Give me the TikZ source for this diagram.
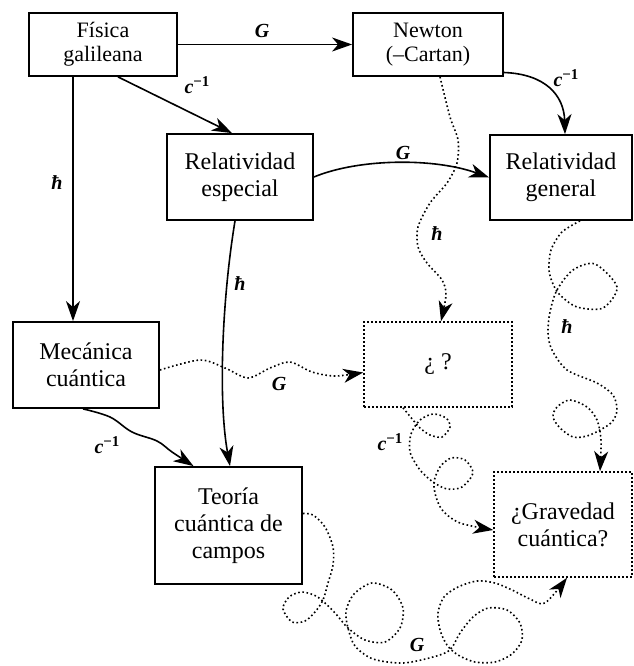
\documentclass[tikz,border=0pt]{standalone}
\usepackage{fontspec}
\setmainfont{Liberation Serif}
\usetikzlibrary{arrows.meta}
\begin{document}
\begin{tikzpicture}[x=1pt,y=-1pt,
  box/.style={draw, line width=1.8pt, align=center, inner sep=0pt, font=\fontsize{24}{27}\selectfont},
  sbox/.style={box, font=\fontsize{22}{24}\selectfont},
  dbox/.style={box, dash pattern=on 1.8pt off 2.2pt, line width=1.6pt},
  tip/.style={-{Stealth[length=20pt,width=14pt,inset=6pt]}},
  con/.style={line width=1.6pt, tip},
  dcon/.style={line width=1.6pt, dash pattern=on 1.6pt off 2.6pt, tip},
  lab/.style={inner sep=0pt, font=\fontsize{20}{22}\selectfont\bfseries\itshape},
  sup/.style={font=\fontsize{16}{18}\selectfont\bfseries}
]
\useasboundingbox (0,0) rectangle (633,666);

% boxes
\node[sbox, minimum width=148pt, minimum height=63pt] (fg) at (103,44.5) {Física\\galileana};
\node[sbox, minimum width=150pt, minimum height=63pt] (nw) at (428,44.5) {Newton\\(–Cartan)};
\node[box, minimum width=146pt, minimum height=86pt] (re) at (240,177) {Relatividad\\especial};
\node[box, minimum width=142pt, minimum height=85pt] (rg) at (561,177.5) {Relatividad\\general};
\node[box, minimum width=146pt, minimum height=86pt] (mc) at (86,365) {Mecánica\\cuántica};
\node[dbox, minimum width=148pt, minimum height=85pt] (qq) at (438,364.5) {¿ ?};
\node[box, minimum width=147pt, minimum height=117pt] (tq) at (228.5,525.5) {Teoría\\cuántica de\\campos};
\node[dbox, minimum width=138pt, minimum height=105pt] (gq) at (563,524.5) {¿Gravedad\\cuántica?};

% solid connectors
\draw[con] (fg.east) -- (nw.west);
\node[lab] (l1) at (262,31) {G};

\draw[con] ([xshift=15pt]fg.south) -- ([xshift=-8pt]re.north);
\node[lab] (l2) at (197,85) {c\raisebox{7pt}{\fontsize{15}{16}\selectfont\upshape −1}};

\draw[con] ([xshift=-30pt]fg.south) -- ([xshift=-13pt]mc.north);
\node[lab] (l3) at (57,183) {ħ};

\draw[con] ([yshift=-28pt]nw.east) .. controls (545,74) and (564,95) .. ([xshift=4pt]rg.north);
\node[lab] (l4) at (566,78) {c\raisebox{7pt}{\fontsize{15}{16}\selectfont\upshape −1}};

\draw[con] (re.east) .. controls (360,158) and (435,158) .. (rg.west);
\node[lab] (l5) at (403,153) {G};

\draw[con] ([xshift=-5pt]re.south) .. controls (222,300) and (218,400) .. ([xshift=1.5pt]tq.north);
\node[lab] (l6) at (240,284) {ħ};

\draw[con] plot[smooth, tension=0.6] coordinates {([xshift=-3pt]mc.south) (110,417) (132,432) (157,441) (172,452) ([xshift=-35pt]tq.north)};
\node[lab] (l7) at (107,445) {c\raisebox{7pt}{\fontsize{15}{16}\selectfont\upshape −1}};

% dotted connectors
\draw[dcon] plot[smooth] coordinates {([yshift=-5pt]mc.east) (200,360) (225,368) (248,378) (270,368) (290,362) (312,372) (335,376) ([yshift=-8pt]qq.west)};
\node[lab] (l8) at (279,384) {G};

\draw[dcon] plot[smooth] coordinates {([xshift=12pt]nw.south) (450,117) (458,140) (457,163) (447,183) (430,203) (418,227) (418,247) (427,263) (442,280) (446,295) ([xshift=3pt]qq.north)};
\node[lab] (l9) at (437,234) {ħ};

\draw[dcon] plot[smooth] coordinates {([xshift=19pt]rg.south) (562,232) (551,250) (549,270) (553,284) (560,295) (577,307) (603,308) (617,287) (595,264) (573,270) (557,290) (550,312) (548,333) (552,350) (567,370) (597,383) (613,395) (617,410) (612,422) (600,430) (587,436) (573,437) (560,428) (553,417) (557,407) (570,400) (587,407) (597,420) (601,440) ([xshift=37pt]gq.north)};
\node[lab] (l10) at (567,327) {ħ};

\draw[dcon] plot[smooth] coordinates {([xshift=-35pt]qq.south) (413,420) (420,428) (430,435) (442,437) (450,427) (446,418) (433,414) (420,420) (411,434) (410,452) (420,470) (433,482) (447,489) (462,487) (473,473) (465,460) (451,458) (440,467) (434,482) (436,497) (443,511) (460,523) ([yshift=-5.5pt]gq.west)};
\node[lab] (l11) at (390,442) {c\raisebox{7pt}{\fontsize{15}{16}\selectfont\upshape −1}};

\draw[dcon] plot[smooth] coordinates {([yshift=12pt]tq.east) (313,515) (325,527) (333,547) (333,565) (328,583) (323,600) (315,612) (305,621) (292,622) (283,609) (289,597) (302,592) (316,596) (326,604) (336,614) (348,628) (365,640) (385,642) (400,628) (403,608) (392,590) (372,583) (354,594) (346,611) (348,628) (355,646) (373,659) (403,663) (433,657) (450,650) (460,633) (473,617) (488,608) (507,610) (520,623) (522,640) (512,654) (495,662) (475,662) (458,655) (447,645) (440,630) (438,613) (444,597) (458,587) (477,581) (495,583) (512,590) (530,599) (545,603) ([xshift=4pt]gq.south)};
\node[lab] (l12) at (417,645) {G};
\end{tikzpicture}
\end{document}
